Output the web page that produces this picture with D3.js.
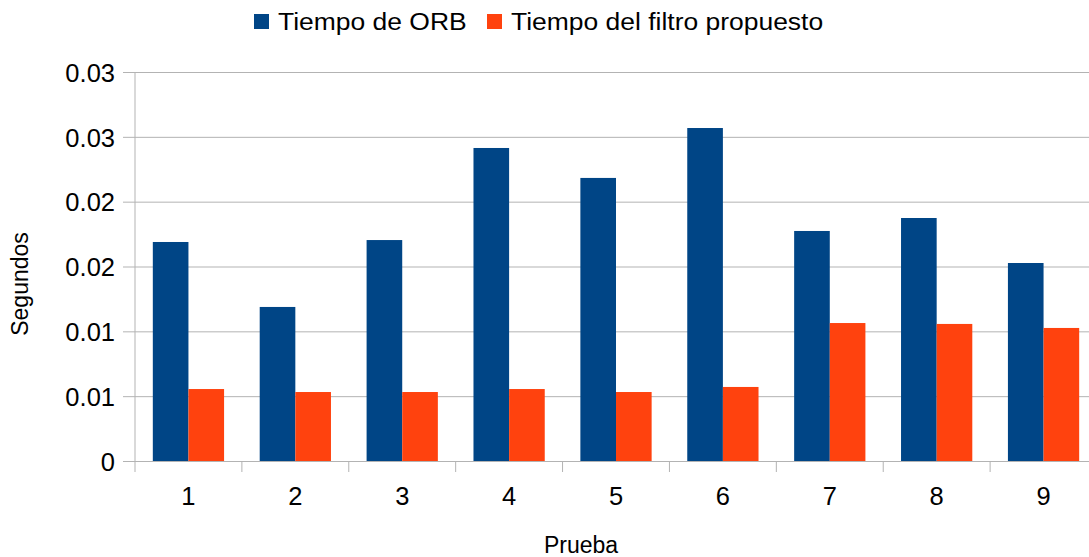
<!DOCTYPE html>
<html>
<head>
<meta charset="utf-8">
<script src="https://cdn.jsdelivr.net/npm/d3@7"></script>
<style>
  body { margin: 0; background: #fff; }
  svg { display: block; font-family: "Liberation Sans", Arial, sans-serif; }
</style>
</head>
<body>
<div id="chart"></div>
<script>
// data
const pruebas = ['1', '2', '3', '4', '5', '6', '7', '8', '9']
const seriesNames = ['Tiempo de ORB', 'Tiempo del filtro propuesto']
const tiempoOrb = [0.01689, 0.01188, 0.01704, 0.02414, 0.02183, 0.02568, 0.01774, 0.01874, 0.01527]
const tiempoFiltro = [0.00555, 0.00532, 0.00532, 0.00555, 0.00532, 0.00571, 0.01064, 0.01057, 0.01026]
const yTickValues = [0, 0.005, 0.01, 0.015, 0.02, 0.025, 0.03]
const yTickLabels = ['0', '0.01', '0.01', '0.02', '0.02', '0.03', '0.03']
const colors = ['#004586', '#ff420e']

const W = 1089, H = 557
const plot = {left: 135, right: 1097, top: 72, bottom: 461}

const rows = pruebas.map((p, i) => ({prueba: p, values: [tiempoOrb[i], tiempoFiltro[i]]}))

const svg = d3.select('#chart').append('svg').attr('width', W).attr('height', H)

const x = d3.scaleBand().domain(pruebas).range([plot.left, plot.right])
const xs = d3.scaleBand().domain(d3.range(seriesNames.length))
  .range([x.bandwidth() / 6, x.bandwidth() * 5 / 6])
const y = d3.scaleLinear().domain([0, 0.03]).range([plot.bottom, plot.top])

// gridlines + y ticks
const yAxis = svg.append('g').attr('transform', `translate(${plot.left},0)`)
  .call(d3.axisLeft(y).tickValues(yTickValues).tickSize(12).tickFormat((d, i) => yTickLabels[i]))
yAxis.select('.domain').remove()
yAxis.selectAll('.tick line').attr('x2', plot.right - plot.left).attr('x1', -12).attr('stroke', '#b3b3b3')
yAxis.selectAll('.tick text').attr('x', -20).attr('dy', '0.36em')
  .attr('font-size', 25.5).attr('fill', '#000').attr('font-family', '"Liberation Sans", Arial, sans-serif')

// bars
const groups = svg.append('g').selectAll('g').data(rows).enter().append('g')
  .attr('transform', d => `translate(${x(d.prueba)},0)`)
groups.selectAll('rect').data(d => d.values).enter().append('rect')
  .attr('x', (d, i) => xs(i))
  .attr('width', xs.bandwidth())
  .attr('y', d => y(d))
  .attr('height', d => y(0) - y(d))
  .attr('fill', (d, i) => colors[i])

// axes lines
svg.append('line').attr('x1', plot.left).attr('x2', plot.left).attr('y1', plot.top).attr('y2', plot.bottom + 11)
  .attr('stroke', '#b3b3b3')
const xAxis = svg.append('g').attr('transform', `translate(0,${plot.bottom})`)
  .call(d3.axisBottom(x).tickSize(0).tickPadding(0))
xAxis.select('.domain').attr('stroke', '#b3b3b3').attr('d', `M${plot.left},0.5H${plot.right}`)
xAxis.selectAll('.tick text').attr('y', 44).attr('dy', 0)
  .attr('font-size', 25.5).attr('fill', '#000').attr('font-family', '"Liberation Sans", Arial, sans-serif')
svg.append('g').selectAll('line').data(pruebas.slice(1)).enter().append('line')
  .attr('x1', d => x(d)).attr('x2', d => x(d))
  .attr('y1', plot.bottom).attr('y2', plot.bottom + 11)
  .attr('stroke', '#b3b3b3')

// axis titles
svg.append('text').attr('x', 581).attr('y', 553).attr('text-anchor', 'middle')
  .attr('font-size', 23).text('Prueba')
svg.append('text').attr('transform', 'translate(28,284) rotate(-90)').attr('text-anchor', 'middle')
  .attr('font-size', 23).text('Segundos')

// legend
const legendX = [254, 487]
const legend = svg.append('g').selectAll('g').data(seriesNames).enter().append('g')
  .attr('transform', (d, i) => `translate(${legendX[i]},14)`)
legend.append('rect').attr('width', 15).attr('height', 15).attr('fill', (d, i) => colors[i])
legend.append('text').attr('transform', 'translate(24,16) scale(1.08,1)')
  .attr('font-size', 24.5).text(d => d)
</script>
</body>
</html>
